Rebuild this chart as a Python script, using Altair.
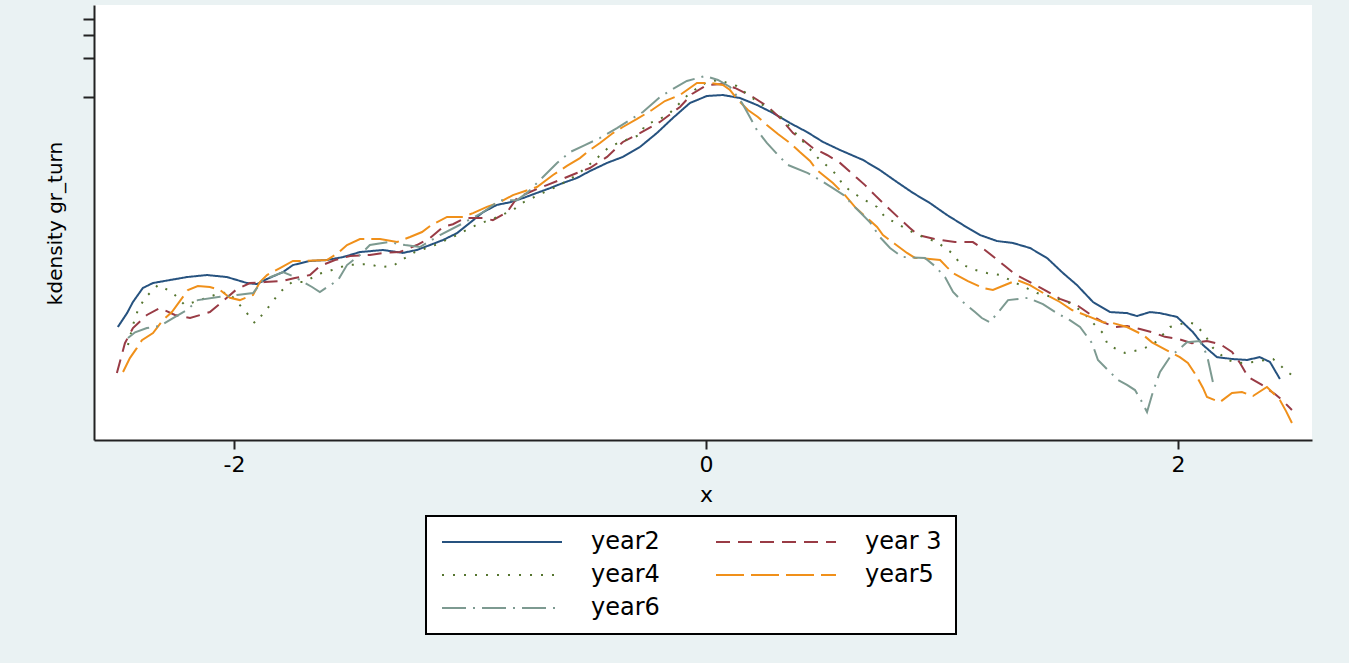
import altair as alt
import pandas as pd

series_names = ["year2", "year 3", "year4", "year5", "year6"]

year2_x = [-2.492, -2.453, -2.428, -2.386, -2.343, -2.271, -2.199, -2.114, -2.030, -1.987,
           -1.945, -1.903, -1.860, -1.792, -1.750, -1.678, -1.606, -1.538, -1.466, -1.369,
           -1.284, -1.225, -1.169, -1.114, -1.055, -1.000, -0.945, -0.886, -0.831, -0.775,
           -0.716, -0.661, -0.606, -0.547, -0.492, -0.419, -0.352, -0.280, -0.208, -0.140,
           -0.068, 0.004, 0.072, 0.144, 0.216, 0.284, 0.356, 0.428, 0.496, 0.568,
           0.665, 0.737, 0.809, 0.877, 0.949, 1.021, 1.089, 1.161, 1.233, 1.301,
           1.373, 1.445, 1.513, 1.572, 1.640, 1.712, 1.784, 1.826, 1.881, 1.924,
           1.996, 2.064, 2.106, 2.165, 2.233, 2.292, 2.347, 2.390, 2.432]
year2_y = [.00168, .00215, .00262, .00336, .00367, .00387, .00408, .00423, .00408, .00387,
           .00367, .00360, .00394, .00446, .00505, .00543, .00552, .00582, .00636, .00660,
           .00627, .00660, .00721, .00788, .00890, .0107, .0129, .0147, .0154, .0166,
           .0182, .0198, .0217, .0237, .0268, .0310, .0345, .0411, .0527, .0689,
           .0899, .1018, .1036, .0982, .0868, .0753, .0630, .0537, .0450, .0390,
           .0327, .0273, .0221, .0182, .0152, .0123, .0103, .00861, .00774, .00747,
           .00684, .00573, .00438, .00354, .00262, .00219, .00215, .00204, .00219, .00215,
           .00201, .00153, .00122, .000984, .000950, .000935, .000984, .000902, .000667]

year3_x = [-2.496, -2.462, -2.428, -2.369, -2.314, -2.250, -2.186, -2.102, -2.051, -1.987,
           -1.932, -1.869, -1.797, -1.742, -1.678, -1.636, -1.572, -1.508, -1.424, -1.369,
           -1.297, -1.225, -1.169, -1.114, -1.072, -1.021, -0.945, -0.903, -0.843, -0.801,
           -0.746, -0.674, -0.619, -0.547, -0.492, -0.419, -0.352, -0.280, -0.195, -0.110,
           -0.059, 0.004, 0.072, 0.123, 0.199, 0.258, 0.314, 0.369, 0.411, 0.453,
           0.513, 0.568, 0.640, 0.674, 0.716, 0.758, 0.822, 0.864, 0.898, 0.970,
           1.055, 1.131, 1.182, 1.225, 1.267, 1.309, 1.373, 1.436, 1.500, 1.572,
           1.627, 1.682, 1.733, 1.784, 1.839, 1.890, 1.945, 2.000, 2.059, 2.123,
           2.178, 2.229, 2.263, 2.297, 2.356, 2.411, 2.441, 2.483]
year3_y = [.000742, .00126, .00165, .00208, .00235, .00208, .00197, .00219, .00262, .00330,
           .00367, .00373, .00380, .00401, .00423, .00496, .00552, .00593, .00604, .00626,
           .00637, .00721, .00816, .00994, .01043, .01166, .01166, .0112, .0129, .0166,
           .0185, .0209, .0229, .0259, .0283, .0345, .0450, .0527, .0642, .0838,
           .1055, .1238, .1260, .1174, .1000, .0853, .0689, .0527, .0466, .0404,
           .0357, .0310, .0237, .0209, .0175, .0147, .01146, .00977, .00861, .00802,
           .00760, .00760, .00660, .00573, .00496, .00430, .00373, .00324, .00277, .00248,
           .00211, .00183, .00168, .00171, .00162, .00153, .00141, .00136, .00126, .00131,
           .00124, .00108, .000887, .000691, .000600, .000510, .000459, .000384]

year4_x = [-2.449, -2.428, -2.407, -2.377, -2.322, -2.263, -2.208, -2.144, -2.081, -2.025,
           -1.975, -1.945, -1.911, -1.881, -1.847, -1.805, -1.754, -1.699, -1.644, -1.585,
           -1.521, -1.428, -1.381, -1.326, -1.297, -1.233, -1.148, -1.064, -0.966, -0.894,
           -0.818, -0.780, -0.691, -0.619, -0.542, -0.470, -0.415, -0.364, -0.280, -0.258,
           -0.195, -0.153, -0.081, -0.055, 0.004, 0.059, 0.102, 0.131, 0.208, 0.292,
           0.322, 0.398, 0.475, 0.513, 0.555, 0.581, 0.623, 0.674, 0.725, 0.758,
           0.835, 0.898, 0.979, 1.042, 1.076, 1.127, 1.191, 1.246, 1.331, 1.403,
           1.479, 1.542, 1.597, 1.648, 1.682, 1.703, 1.775, 1.839, 1.890, 1.911,
           1.966, 2.042, 2.072, 2.114, 2.148, 2.208, 2.263, 2.326, 2.369, 2.403,
           2.424, 2.462, 2.483]
year4_y = [.00122, .00174, .00227, .00282, .00354, .00313, .00248, .00271, .00297, .00313,
           .00248, .00215, .00180, .00208, .00248, .00313, .00373, .00373, .00430, .00462,
           .00505, .00514, .00487, .00496, .00543, .00636, .00721, .00846, .01043, .01166,
           .0134, .0152, .0182, .0209, .0254, .0327, .0404, .0450, .0509, .0608,
           .0677, .0753, .1018, .1112, .1306, .1353, .1260, .1216, .0948, .0753,
           .0689, .0483, .0338, .0294, .0250, .0209, .0182, .0160, .01419, .01187,
           .00994, .00861, .00760, .00626, .00523, .00470, .00438, .00423, .00354, .00307,
           .00282, .00257, .00219, .00174, .00151, .00122, .00106, .00112, .00122, .00131,
           .00168, .00183, .00177, .00146, .00116, .000935, .000887, .000904, .000935, .000950,
           .000887, .000756, .000716]

year5_x = [-2.470, -2.441, -2.411, -2.390, -2.343, -2.301, -2.263, -2.195, -2.153, -2.102,
           -2.059, -2.017, -1.975, -1.919, -1.890, -1.860, -1.805, -1.750, -1.699, -1.606,
           -1.559, -1.521, -1.466, -1.381, -1.309, -1.254, -1.203, -1.169, -1.097, -1.030,
           -0.987, -0.928, -0.873, -0.818, -0.716, -0.648, -0.589, -0.534, -0.492, -0.449,
           -0.394, -0.352, -0.292, -0.229, -0.174, -0.110, -0.038, 0.017, 0.072, 0.102,
           0.136, 0.178, 0.220, 0.258, 0.305, 0.356, 0.398, 0.441, 0.470, 0.496,
           0.538, 0.589, 0.631, 0.678, 0.725, 0.750, 0.801, 0.852, 0.886, 0.949,
           0.992, 1.021, 1.047, 1.110, 1.174, 1.216, 1.267, 1.318, 1.373, 1.436,
           1.500, 1.551, 1.619, 1.682, 1.725, 1.784, 1.852, 1.890, 1.949, 2.008,
           2.042, 2.076, 2.106, 2.123, 2.178, 2.229, 2.271, 2.318, 2.377, 2.403,
           2.432, 2.458, 2.483]
year5_y = [.000756, .000967, .00116, .00133, .00151, .00190, .00219, .00324, .00348, .00342,
           .00324, .00282, .00271, .00297, .00373, .00423, .00479, .00543, .00543, .00552,
           .00626, .00721, .00802, .00802, .00760, .00831, .00908, .01012, .01187, .01187,
           .01270, .01419, .01544, .0175, .0202, .0250, .0294, .0338, .0390, .0442,
           .0527, .0587, .0677, .0794, .0931, .1036, .1283, .1283, .1238, .1132,
           .0948, .0794, .0702, .0608, .0518, .0442, .0376, .0321, .0273, .0250,
           .0217, .0175, .01419, .01187, .00994, .00861, .00734, .00626, .00573, .00563,
           .00552, .00487, .00438, .00380, .00336, .00324, .00354, .00387, .00354, .00302,
           .00262, .00227, .00204, .00183, .00180, .00168, .00146, .00128, .00112, .000984,
           .000887, .000716, .000569, .000484, .000443, .000520, .000529, .000493, .000579, .000520,
           .000459, .000377, .000305]

year6_x = [-2.449, -2.419, -2.369, -2.314, -2.258, -2.199, -2.153, -2.059, -1.987, -1.919,
           -1.877, -1.792, -1.742, -1.669, -1.636, -1.559, -1.521, -1.466, -1.424, -1.347,
           -1.275, -1.212, -1.127, -1.030, -0.945, -0.873, -0.801, -0.758, -0.703, -0.631,
           -0.576, -0.513, -0.449, -0.377, -0.322, -0.267, -0.195, -0.140, -0.081, -0.004,
           0.051, 0.102, 0.153, 0.186, 0.216, 0.258, 0.305, 0.347, 0.432, 0.483,
           0.538, 0.597, 0.610, 0.653, 0.695, 0.737, 0.780, 0.831, 0.928, 0.970,
           1.013, 1.047, 1.089, 1.140, 1.169, 1.203, 1.246, 1.280, 1.364, 1.428,
           1.487, 1.542, 1.585, 1.636, 1.661, 1.703, 1.746, 1.784, 1.818, 1.843,
           1.869, 1.890, 1.907, 1.924, 1.966, 2.038, 2.093, 2.123, 2.148]
year6_y = [.00138, .00153, .00165, .00171, .00197, .00227, .00271, .00287, .00297, .00307,
           .00387, .00446, .00408, .00342, .00313, .00387, .00505, .00604, .00721, .00760,
           .00721, .00696, .00861, .0106, .0129, .0160, .0160, .0182, .0229, .0310,
           .0376, .0426, .0483, .0576, .0665, .0766, .1000, .1153, .1329, .1452,
           .1353, .1195, .0899, .0702, .0556, .0442, .0357, .0299, .0259, .0229,
           .0198, .0169, .0154, .0129, .0108, .00831, .00684, .00583, .00573, .00496,
           .00408, .00313, .00262, .00219, .00197, .00183, .00227, .00271, .00282, .00252,
           .00215, .00190, .00168, .00126, .000935, .000783, .000655, .000600, .000548, .000459,
           .000371, .000502, .000621, .000756, .000984, .00128, .00131, .00102, .000632]

x_ticks = [-2, 0, 2]
y_ticks = [0.1, 0.2, 0.3, 0.4]

rows = []
for name, xs, ys in zip(series_names,
                        [year2_x, year3_x, year4_x, year5_x, year6_x],
                        [year2_y, year3_y, year4_y, year5_y, year6_y]):
    for xv, yv in zip(xs, ys):
        rows.append({"x": xv, "density": yv, "series": name})
df = pd.DataFrame(rows)

colors = ["#26527F", "#993B45", "#55752F", "#F0901A", "#7D9A91"]
dashes = [[1, 0], [14, 8], [2, 9], [28, 7], [24, 7, 2, 7]]

FONT = "DejaVu Sans"

# long horizontal stroke symbol drawn from a small nominal symbol size
legend_args = dict(
    orient="none", legendX=332, legendY=511, columns=2, direction="horizontal",
    symbolType="M-1,0H11", symbolSize=400, symbolStrokeWidth=2,
    labelFont=FONT, labelFontSize=24, labelColor="#000", labelOffset=127,
    labelLimit=400, columnPadding=52, rowPadding=9, padding=14,
    strokeColor="#000", fillColor="#fff", title=None,
)

chart = alt.Chart(df).mark_line(strokeWidth=2, strokeCap="butt").encode(
    x=alt.X("x:Q",
            scale=alt.Scale(domain=[-2.593, 2.568], nice=False, zero=False),
            axis=alt.Axis(values=x_ticks, title="x", grid=False, tickSize=9,
                          labelExpr="'' + datum.value", labelPadding=5,
                          titleX=612, titleY=54, titleBaseline="middle")),
    y=alt.Y("density:Q",
            scale=alt.Scale(type="log", domain=[0.0002256, 0.5128], nice=False),
            axis=alt.Axis(values=y_ticks, labels=False, title="kdensity gr_turn",
                          grid=False, tickSize=11, titleFontSize=20,
                          titleAngle=270, titleX=-39, titleY=218,
                          titleAlign="center", titleBaseline="middle")),
    color=alt.Color("series:N", scale=alt.Scale(domain=series_names, range=colors),
                    legend=alt.Legend(**legend_args)),
    strokeDash=alt.StrokeDash("series:N", scale=alt.Scale(domain=series_names, range=dashes),
                              legend=alt.Legend(**legend_args)),
).properties(
    width=1218, height=435,
    autosize=alt.AutoSizeParams(type="none"),
    padding={"left": 94, "top": 5, "right": 37, "bottom": 223},
    background="#EAF2F3",
).configure_view(
    fill="white", strokeWidth=0,
).configure_axis(
    domainColor="#222", domainWidth=2, tickColor="#222", tickWidth=2,
    labelFont=FONT, labelFontSize=22, labelColor="#000",
    titleFont=FONT, titleFontSize=22, titleColor="#000", titleFontWeight="normal",
).configure_legend(
    strokeWidth=2,
)

chart.save("out.html", embed_options={"renderer": "svg", "actions": False})
